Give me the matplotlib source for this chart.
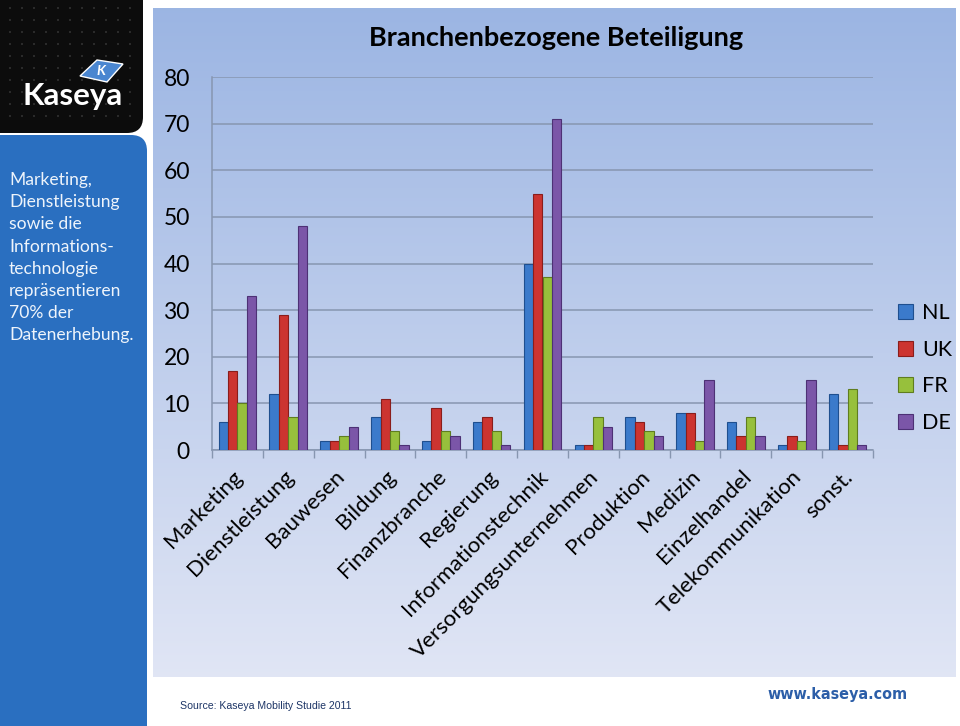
import numpy as np
import matplotlib
matplotlib.use("Agg")
import matplotlib.pyplot as plt
import matplotlib.transforms as mtransforms
from matplotlib.patches import FancyBboxPatch, Polygon

plt.rcParams['font.family'] = ['Lato', 'DejaVu Sans']

# Daten
categories = ['Marketing', 'Dienstleistung', 'Bauwesen', 'Bildung', 'Finanzbranche',
              'Regierung', 'Informationstechnik', 'Versorgungsunternehmen', 'Produktion',
              'Medizin', 'Einzelhandel', 'Telekommunikation', 'sonst.']
nl = [6, 12, 2, 7, 2, 6, 40, 1, 7, 8, 6, 1, 12]
uk = [17, 29, 2, 11, 9, 7, 55, 1, 6, 8, 3, 3, 1]
fr = [10, 7, 3, 4, 4, 4, 37, 7, 4, 2, 7, 2, 13]
de = [33, 48, 5, 1, 3, 1, 71, 5, 3, 15, 3, 15, 1]
series_names = ['NL', 'UK', 'FR', 'DE']
series = [nl, uk, fr, de]
colors = ['#3b7acb', '#cc3430', '#97c03c', '#7b56a8']
edges = ['#1f4f8f', '#8a1d1b', '#5f7d1f', '#4d3175']

W, H = 960, 726
fig = plt.figure(figsize=(W / 100, H / 100), dpi=100)
fig.patch.set_facecolor('white')

# Hintergrund der Folie (Pixelkoordinaten)
bg = fig.add_axes([0, 0, 1, 1], zorder=0)
bg.set_xlim(0, W)
bg.set_ylim(H, 0)
bg.axis('off')

# Verlauf im Hauptbereich
grad = np.linspace(0, 1, 256)[:, None]
top_c = np.array([0.61, 0.71, 0.89])
bot_c = np.array([0.88, 0.90, 0.96])
img = top_c[None, None, :] * (1 - grad[..., None]) + bot_c[None, None, :] * grad[..., None]
bg.imshow(img, extent=(153, 956, 677, 8), aspect='auto', zorder=1)

# Linke Spalte: schwarz oben, blau unten
bg.add_patch(FancyBboxPatch((-20, -20), 163, 153, boxstyle="round,pad=0,rounding_size=16",
                            fc='#0c0c0c', ec='none', zorder=2))
xs, ys = np.meshgrid(np.arange(10, 140, 12), np.arange(8, 125, 12))
bg.scatter(xs.ravel(), ys.ravel(), s=4, marker='s', c='#2a2a2a', lw=0, zorder=3)
bg.add_patch(FancyBboxPatch((-20, 135), 167, 620, boxstyle="round,pad=0,rounding_size=16",
                            fc='#2a6fc0', ec='none', zorder=2))

# Logo
bg.add_patch(Polygon([[80, 76], [97, 60], [123, 64], [107, 82]], closed=True,
                     fc='#4a86d0', ec='white', lw=1, zorder=4))
bg.text(101, 71, 'K', color='white', fontsize=10, fontweight='bold', ha='center', va='center',
        fontstyle='italic', zorder=5)
bg.text(73, 96, 'Kaseya', color='white', fontsize=22.5, fontweight='bold', ha='center',
        va='center', zorder=5)

left_lines = ['Marketing,', 'Dienstleistung', 'sowie die', 'Informations-', 'technologie',
              'repräsentieren', '70% der', 'Datenerhebung.']
for i, line in enumerate(left_lines):
    bg.text(9, 180 + i * 22.2, line, color='#eef4fb', fontsize=12.6, ha='left', va='center',
            zorder=5)

# Fußzeile
bg.text(180, 706, 'Source: Kaseya Mobility Studie 2011', color='#1d3566', fontsize=7.6,
        family='Liberation Sans', ha='left', va='center', zorder=5)
bg.text(838, 694, 'www.kaseya.com', color='#2c5ea8', fontsize=11.5, fontweight='bold',
        family=['Liberation Sans Narrow', 'DejaVu Sans'], fontstretch='condensed',
        ha='center', va='center', zorder=5)

# Diagramm
ax = fig.add_axes([212 / W, 1 - 450 / H, 661 / W, 373 / H], zorder=2)
ax.set_facecolor('none')
x = np.arange(len(categories))
bw = 0.185
for i, (vals, name) in enumerate(zip(series, series_names)):
    ax.bar(x + (i - 1.5) * bw, vals, width=bw, color=colors[i], edgecolor=edges[i],
           linewidth=0.8, label=name, zorder=3)

ax.set_xlim(-0.5, len(categories) - 0.5)
ax.set_ylim(0, 80)
ax.set_yticks(range(0, 81, 10))
ax.yaxis.grid(True, color='#8796b0', lw=1.1, zorder=0)
ax.tick_params(axis='y', length=0, pad=16, labelsize=16.5, colors='black')
ax.set_xticks(x)
ax.set_xticklabels(categories, rotation=45, ha='right', rotation_mode='anchor', fontsize=16)
ax.set_xticks(np.arange(-0.5, len(categories), 1), minor=True)
ax.tick_params(axis='x', which='major', length=0, pad=12)
ax.tick_params(axis='x', which='minor', length=6, color='#8796b0', width=1)
shift = mtransforms.ScaledTranslation(-5 / 100, 0, fig.dpi_scale_trans)
for lab in ax.get_xticklabels():
    lab.set_transform(lab.get_transform() + shift)
for s in ['top', 'right']:
    ax.spines[s].set_visible(False)
for s in ['left', 'bottom']:
    ax.spines[s].set_color('#8796b0')
    ax.spines[s].set_linewidth(1.1)

fig.text(556 / W, 1 - 38 / H, 'Branchenbezogene Beteiligung', fontsize=19.5, fontweight='bold',
         ha='center', va='center', zorder=5)

leg = ax.legend(loc='center left', bbox_to_anchor=(879 / W, 1 - 368 / H),
                bbox_transform=fig.transFigure, frameon=False, fontsize=15.5,
                handlelength=0.7, handleheight=0.7, handletextpad=0.4, labelspacing=0.78)

fig.savefig('out.png', dpi=100)
